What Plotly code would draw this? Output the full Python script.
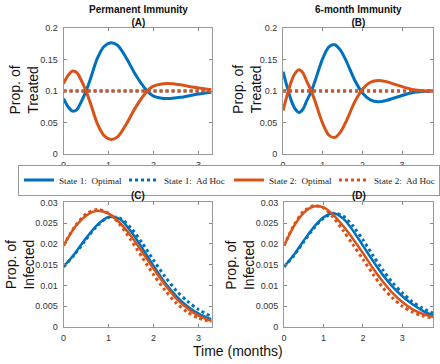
import plotly.graph_objects as go

# ---------------- data ----------------
# Treated proportion, permanent immunity (A)
t_A = [0, 0.1, 0.2, 0.3, 0.4, 0.5, 0.6, 0.75, 0.9, 1.05, 1.2, 1.4, 1.6, 1.8, 1.9, 2.0, 2.15, 2.3, 2.6, 2.9, 3.29]
s1_opt_A = [0.088, 0.075, 0.068, 0.071, 0.084, 0.100, 0.120, 0.152, 0.171, 0.177, 0.173, 0.152, 0.126, 0.105, 0.097, 0.092, 0.089, 0.088, 0.090, 0.094, 0.098]
s2_opt_A = [0.112, 0.125, 0.132, 0.129, 0.116, 0.100, 0.080, 0.048, 0.029, 0.023, 0.027, 0.048, 0.074, 0.095, 0.103, 0.108, 0.111, 0.112, 0.110, 0.106, 0.102]
t_adhoc_A = [0, 3.29]
s1_adhoc_A = [0.1, 0.1]
s2_adhoc_A = [0.1, 0.1]

# Treated proportion, 6-month immunity (B)
t_B = [0, 0.1, 0.2, 0.3, 0.4, 0.5, 0.6, 0.7, 0.8, 1.0, 1.15, 1.3, 1.45, 1.6, 1.8, 2.0, 2.2, 2.4, 2.6, 2.8, 3.0, 3.3, 3.5, 3.78]
s1_opt_B = [0.131, 0.107, 0.086, 0.072, 0.066, 0.071, 0.085, 0.098, 0.115, 0.152, 0.170, 0.174, 0.165, 0.147, 0.118, 0.097, 0.086, 0.083, 0.085, 0.089, 0.093, 0.098, 0.0995, 0.100]
s2_opt_B = [0.069, 0.093, 0.114, 0.128, 0.134, 0.129, 0.115, 0.102, 0.085, 0.048, 0.030, 0.026, 0.035, 0.053, 0.082, 0.103, 0.114, 0.117, 0.115, 0.111, 0.107, 0.102, 0.1005, 0.100]
t_adhoc_B = [0, 3.78]
s1_adhoc_B = [0.1, 0.1]
s2_adhoc_B = [0.1, 0.1]

# Infected proportion, permanent immunity (C)
t_C = [0, 0.25, 0.5, 0.75, 1.0, 1.25, 1.5, 1.75, 2.0, 2.25, 2.5, 2.75, 3.0, 3.29]
s1_opt_C = [0.0145, 0.0177, 0.0214, 0.0246, 0.0265, 0.0260, 0.0230, 0.0190, 0.0147, 0.0107, 0.0075, 0.0050, 0.0032, 0.0018]
s1_adhoc_C = [0.0145, 0.0175, 0.0211, 0.0244, 0.0264, 0.0262, 0.0238, 0.0202, 0.0161, 0.0122, 0.0088, 0.0062, 0.0042, 0.0025]
s2_opt_C = [0.0196, 0.0240, 0.0268, 0.0280, 0.0273, 0.0251, 0.0219, 0.0180, 0.0140, 0.0102, 0.0069, 0.0045, 0.0027, 0.0014]
s2_adhoc_C = [0.0196, 0.0242, 0.0272, 0.0283, 0.0274, 0.0247, 0.0209, 0.0167, 0.0126, 0.0089, 0.0058, 0.0036, 0.0021, 0.0012]

# Infected proportion, 6-month immunity (D)
t_D = [0, 0.25, 0.5, 0.75, 1.0, 1.25, 1.5, 1.75, 2.0, 2.25, 2.5, 2.75, 3.0, 3.25, 3.5, 3.78]
s1_opt_D = [0.0145, 0.0174, 0.0208, 0.0240, 0.0264, 0.0274, 0.0261, 0.0232, 0.0196, 0.0160, 0.0126, 0.0097, 0.0074, 0.0055, 0.0040, 0.0027]
s1_adhoc_D = [0.0145, 0.0172, 0.0205, 0.0237, 0.0262, 0.0274, 0.0267, 0.0243, 0.0210, 0.0173, 0.0138, 0.0107, 0.0082, 0.0061, 0.0046, 0.0033]
s2_opt_D = [0.0196, 0.0243, 0.0275, 0.0290, 0.0288, 0.0270, 0.0243, 0.0212, 0.0178, 0.0142, 0.0110, 0.0082, 0.0060, 0.0043, 0.0032, 0.0024]
s2_adhoc_D = [0.0196, 0.0245, 0.0279, 0.0292, 0.0287, 0.0264, 0.0232, 0.0198, 0.0163, 0.0128, 0.0095, 0.0070, 0.0050, 0.0036, 0.0027, 0.0021]

legend_names = ["State 1:  Optimal", "State 1:  Ad Hoc", "State 2:  Optimal", "State 2:  Ad Hoc"]
x_ticks = [0, 1, 2, 3]
y_ticks_treated = [0, 0.05, 0.1, 0.15, 0.2]
y_ticks_infected = [0, 0.005, 0.01, 0.015, 0.02, 0.025, 0.03]

# ---------------- styling ----------------
BLUE = "#0072BD"
ORANGE = "#D95319"
W, H = 440, 364

fig = go.Figure()


def add(x, y, color, dash, width, xa, ya, name, show):
    fig.add_trace(go.Scatter(
        x=x, y=y, mode="lines", name=name, showlegend=show,
        line=dict(color=color, dash=dash, width=width, shape="spline", smoothing=0.8),
        xaxis=xa, yaxis=ya, hoverinfo="skip"))


# A
add(t_A, s1_opt_A, BLUE, "solid", 3, "x", "y", legend_names[0], True)
add(t_adhoc_A, s1_adhoc_A, BLUE, "dot", 3, "x", "y", legend_names[1], True)
add(t_A, s2_opt_A, ORANGE, "solid", 3, "x", "y", legend_names[2], True)
add(t_adhoc_A, s2_adhoc_A, ORANGE, "dot", 3, "x", "y", legend_names[3], True)
# B
add(t_B, s1_opt_B, BLUE, "solid", 3, "x2", "y2", legend_names[0], False)
add(t_adhoc_B, s1_adhoc_B, BLUE, "dot", 3, "x2", "y2", legend_names[1], False)
add(t_B, s2_opt_B, ORANGE, "solid", 3, "x2", "y2", legend_names[2], False)
add(t_adhoc_B, s2_adhoc_B, ORANGE, "dot", 3, "x2", "y2", legend_names[3], False)
# C
add(t_C, s1_opt_C, BLUE, "solid", 2.5, "x3", "y3", legend_names[0], False)
add(t_C, s1_adhoc_C, BLUE, "dot", 3, "x3", "y3", legend_names[1], False)
add(t_C, s2_opt_C, ORANGE, "solid", 2.5, "x3", "y3", legend_names[2], False)
add(t_C, s2_adhoc_C, ORANGE, "dot", 3, "x3", "y3", legend_names[3], False)
# D
add(t_D, s1_opt_D, BLUE, "solid", 2.5, "x4", "y4", legend_names[0], False)
add(t_D, s1_adhoc_D, BLUE, "dot", 3, "x4", "y4", legend_names[1], False)
add(t_D, s2_opt_D, ORANGE, "solid", 2.5, "x4", "y4", legend_names[2], False)
add(t_D, s2_adhoc_D, ORANGE, "dot", 3, "x4", "y4", legend_names[3], False)

TICKFONT = dict(family="Liberation Sans, Arial, sans-serif", size=9, color="#333333")


def xaxis(domain, rng, anchor):
    return dict(domain=domain, range=rng, anchor=anchor, tickvals=x_ticks,
                ticks="inside", ticklen=3, tickcolor="#888888", mirror="ticks",
                showline=True, linecolor="#999999", linewidth=1, showgrid=False,
                zeroline=False, tickfont=TICKFONT, ticklabelstandoff=2)


def yaxis(domain, rng, anchor, tv):
    return dict(domain=domain, range=rng, anchor=anchor, tickvals=tv,
                ticktext=[("%g" % v) for v in tv],
                ticks="inside", ticklen=3, tickcolor="#888888", mirror="ticks",
                showline=True, linecolor="#999999", linewidth=1, showgrid=False,
                zeroline=False, tickfont=TICKFONT, ticklabelstandoff=3)


def px_x(a, b):
    return [a / W, b / W]


def px_y(top, bottom):
    return [1 - bottom / H, 1 - top / H]


fig.update_layout(
    width=W, height=H, margin=dict(l=0, r=0, t=0, b=0),
    paper_bgcolor="white", plot_bgcolor="white",
    xaxis=xaxis(px_x(61, 210), [0, 3.29], "y"),
    yaxis=yaxis(px_y(24, 153), [0, 0.2], "x", y_ticks_treated),
    xaxis2=xaxis(px_x(282, 433), [0, 3.78], "y2"),
    yaxis2=yaxis(px_y(24, 153), [0, 0.2], "x2", y_ticks_treated),
    xaxis3=xaxis(px_x(61, 210), [0, 3.29], "y3"),
    yaxis3=yaxis(px_y(203, 331), [0, 0.03], "x3", y_ticks_infected),
    xaxis4=xaxis(px_x(283, 433), [0, 3.78], "y4"),
    yaxis4=yaxis(px_y(203, 331), [0, 0.03], "x4", y_ticks_infected),
    legend=dict(orientation="h", x=30 / W, y=1 - 180 / H, xanchor="left", yanchor="middle",
                bordercolor="#999999", borderwidth=1, bgcolor="white",
                font=dict(family="Liberation Serif, Times New Roman, serif", size=9.2, color="#222222"),
                itemwidth=30, entrywidth=60, entrywidthmode="pixels",
                tracegroupgap=0, itemclick=False),
    showlegend=True,
)

TITLEFONT = dict(family="Liberation Sans, Arial, sans-serif", size=10, color="#111111")
LABELFONT = dict(family="Liberation Sans, Arial, sans-serif", size=14, color="#111111")


def ann(text, x, y, font, angle=0):
    fig.add_annotation(text=text, x=x / W, y=1 - y / H, xref="paper", yref="paper",
                       showarrow=False, font=font, textangle=angle,
                       xanchor="center", yanchor="middle")


ann("<b>Permanent Immunity</b><br><b>(A)</b>", 136, 11.5, TITLEFONT)
ann("<b>6-month Immunity</b><br><b>(B)</b>", 358, 11.5, TITLEFONT)
ann("<b>(C)</b>", 136, 196, TITLEFONT)
ann("<b>(D)</b>", 358, 196, TITLEFONT)
ann("Prop. of<br>Treated", 21, 87, LABELFONT, -90)
ann("Prop. of<br>Treated", 245, 87, LABELFONT, -90)
ann("Prop. of<br>Infected", 17, 267, LABELFONT, -90)
ann("Prop. of<br>Infected", 238, 267, LABELFONT, -90)
ann("Time (months)", 237, 355.5, LABELFONT)

fig.write_html("out.html", config={"displayModeBar": False},
               post_script="document.body.style.margin='0';document.body.style.padding='0';")
